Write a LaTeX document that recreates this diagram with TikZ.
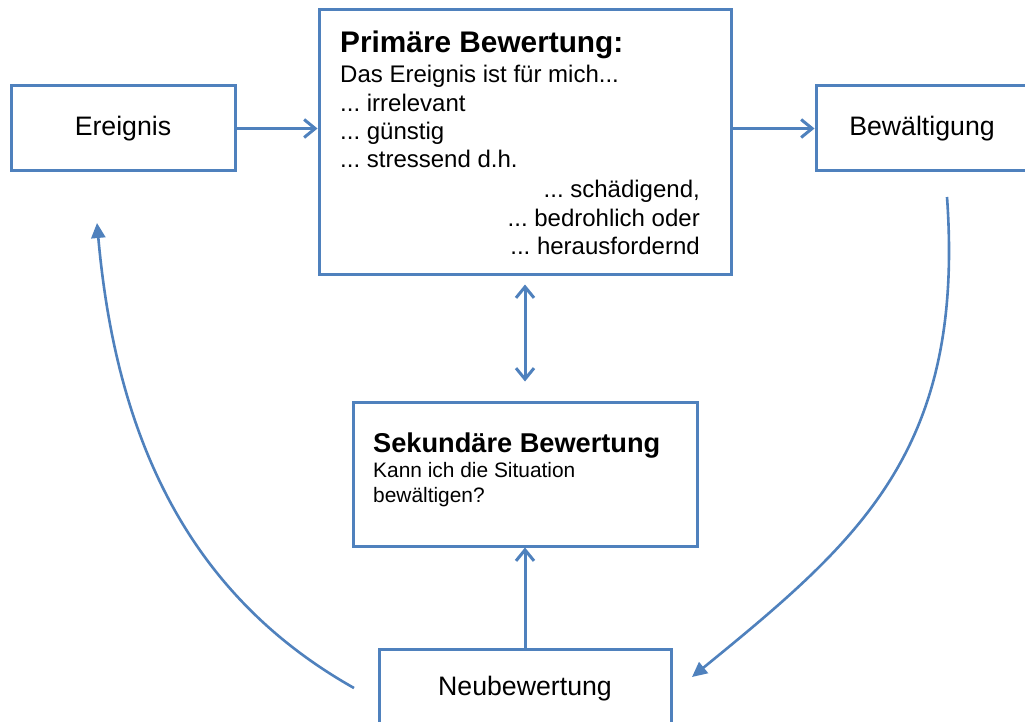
\documentclass[tikz,border=0pt]{standalone}
\usepackage{fontspec}
\setmainfont{Liberation Sans}
\usetikzlibrary{arrows.meta}
\definecolor{boxblue}{RGB}{79,129,189}
\frenchspacing
\begin{document}
\begin{tikzpicture}[x=1pt,y=-1pt,
  box/.style={draw=boxblue,line width=3pt,fill=white,inner sep=0pt,rectangle},
  conn/.style={draw=boxblue,line width=3pt,-{Straight Barb[length=11pt,width=18pt]}},
  dblconn/.style={draw=boxblue,line width=3pt,{Straight Barb[length=11pt,width=18pt]}-{Straight Barb[length=11pt,width=18pt]}},
  curveconn/.style={draw=boxblue,line width=2.6pt,-{Triangle[length=15pt,width=14pt]}},
  bigtxt/.style={font=\fontsize{26.7}{30}\selectfont},
  line/.style={font=\fontsize{24}{28}\selectfont,inner sep=0pt}]
\useasboundingbox (0,0) rectangle (1025,722);
\clip (0,0) rectangle (1025,722);
\fill[white] (0,0) rectangle (1025,722);

% boxes
\node[box,bigtxt,minimum width=224pt,minimum height=85pt] (ereignis) at (123,128.5) {Ereignis};
\node[box,minimum width=412pt,minimum height=264pt] (primaer) at (525,142) {};
\node[box,bigtxt,minimum width=212pt,minimum height=85pt] (bewaelt) at (922,128.5) {Bewältigung};
\node[box,minimum width=344pt,minimum height=144pt] (sekundaer) at (525,474) {};
\node[box,bigtxt,minimum width=292pt,minimum height=80pt] (neu) at (525,689) {Neubewertung};

% texts of primary appraisal
\node[anchor=base west,inner sep=0pt,font=\fontsize{29.8}{34}\selectfont\bfseries] (ptitle) at (340,53) {Primäre Bewertung:};
\node[line,anchor=base west] (p1) at (340,83) {Das Ereignis ist für mich...};
\node[line,anchor=base west] (p2) at (340,112) {... irrelevant};
\node[line,anchor=base west] (p3) at (340,140) {... günstig};
\node[line,anchor=base west] (p4) at (340,168) {... stressend d.h.};
\node[line,anchor=base east] (p5) at (700,197) {... schädigend,};
\node[line,anchor=base east] (p6) at (700,226) {... bedrohlich oder};
\node[line,anchor=base east] (p7) at (700,254) {... herausfordernd};

% texts of secondary appraisal
\node[anchor=base west,inner sep=0pt,font=\fontsize{27.2}{31}\selectfont\bfseries] (stitle) at (373,452) {Sekundäre Bewertung};
\node[anchor=base west,inner sep=0pt,font=\fontsize{20.9}{25}\selectfont] (s1) at (373,477) {Kann ich die Situation};
\node[anchor=base west,inner sep=0pt,font=\fontsize{20.9}{25}\selectfont] (s2) at (373,502) {bewältigen?};

% connectors
\draw[conn] (ereignis.east) -- (ereignis.east -| primaer.west);
\draw[conn] (primaer.east |- bewaelt.west) -- (bewaelt.west);
\draw[dblconn] ([yshift=-9pt]primaer.south) -- ([yshift=19pt]sekundaer.north);
\draw[conn] (neu.north) -- (sekundaer.south);

\coordinate (rstart) at (947,197);
\coordinate (rend) at (692,677);
\draw[curveconn] (rstart) .. controls (965,450) and (860,540) .. (rend);

\coordinate (lstart) at (354,688);
\coordinate (lend) at (97,223);
\draw[curveconn] (lstart) .. controls (180,590) and (115,425) .. (lend);
\end{tikzpicture}
\end{document}
